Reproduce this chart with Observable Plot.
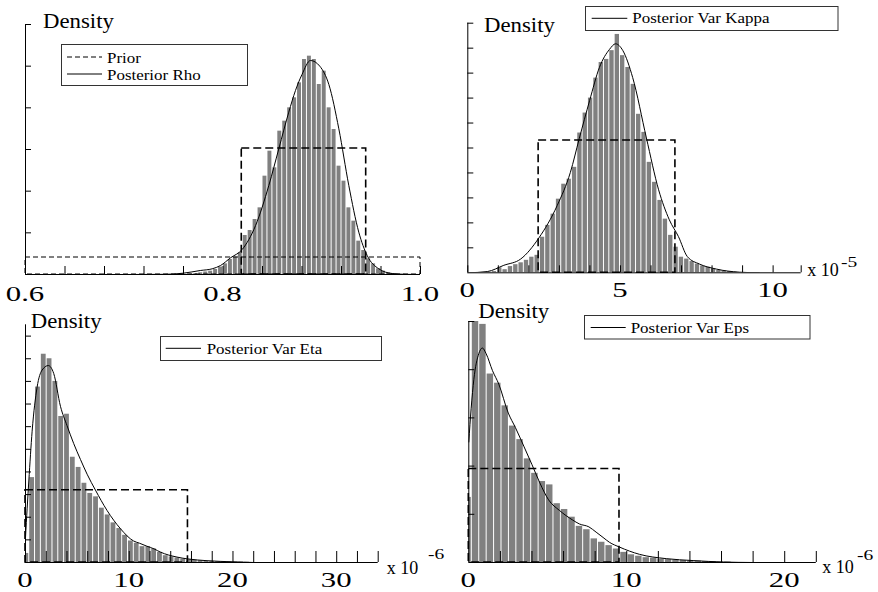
<!DOCTYPE html>
<html><head><meta charset="utf-8">
<script src="https://cdn.jsdelivr.net/npm/d3@7"></script>
<script src="https://cdn.jsdelivr.net/npm/@observablehq/plot@0.6"></script>
<style>
html,body{margin:0;padding:0;background:#fff;}
#wrap{position:relative;width:878px;height:592px;overflow:hidden;background:#fff;font-family:'Liberation Serif',serif;}
#wrap svg{position:absolute;}
</style></head><body><div id="wrap"></div>
<script>
// ---------- Panel 1: Rho ----------
const rhoBinStart = 0.765, rhoBinWidth = 0.005;
const rhoHist = [0.03,0.06,0.10,0.15,0.20,0.30,0.45,0.64,0.90,1.05,1.30,2.34,2.64,3.30,4.00,5.90,7.40,6.40,8.60,9.20,10.0,10.6,11.5,12.9,13.1,12.9,11.4,12.2,10.0,8.7,6.5,5.6,4.0,3.2,2.0,1.44,0.94,0.64,0.34,0.20,0.10,0.05];
const rhoCurveX = [0.70,0.74,0.76,0.777,0.789,0.7975,0.8076,0.8194,0.833,0.8464,0.8565,0.8666,0.8734,0.880,0.8886,0.898,0.9072,0.9173,0.9274,0.9375,0.946,0.9578,0.9713,0.985,1.0];
const rhoCurveY = [0,0.01,0.08,0.24,0.34,0.54,1.0,1.5,2.94,5.34,7.54,9.74,11.04,12.0,12.84,12.5,11.4,8.74,5.34,2.54,1.14,0.34,0.06,0.01,0];
const rhoPriorWide = {x1: 0.6, x2: 1.0, h: 1.02};
const rhoPriorNarrow = {x1: 0.819, x2: 0.945, h: 7.56};
const rhoXTicks = [0.6,0.64,0.68,0.72,0.76,0.8,0.84,0.88,0.92,0.96,1.0];
const rhoXLabels = [0.6,0.8,1.0];
const rhoYTicks = [2.5,5,7.5,10,12.5,15];

// ---------- Panel 2: Var Kappa (x 1e-5) ----------
const kapBinStart = 0.61, kapBinWidth = 0.175;
const kapHist = [0.001,0.002,0.008,0.005,0.010,0.013,0.016,0.020,0.025,0.028,0.057,0.076,0.094,0.118,0.142,0.150,0.169,0.224,0.256,0.280,0.312,0.337,0.342,0.356,0.382,0.348,0.329,0.302,0.254,0.225,0.177,0.145,0.116,0.086,0.060,0.041,0.025,0.022,0.018,0.014,0.011,0.009,0.006,0.004,0.003,0.002,0.001];
const kapCurveX = [0,0.64,1.18,1.73,2.33,2.93,3.36,3.65,3.99,4.31,4.64,4.84,5.08,5.4,5.85,6.25,6.6,6.9,7.19,7.59,8.14,8.9,9.55];
const kapCurveY = [0,0.002,0.012,0.022,0.056,0.108,0.161,0.215,0.276,0.329,0.358,0.367,0.356,0.313,0.216,0.133,0.085,0.058,0.026,0.014,0.006,0.001,0];
const kapPrior = {x1: 2.32, x2: 6.80, h: 0.212};
const kapXTicks = [0,1,2,3,4,5,6,7,8,9,10,10.92];
const kapXLabels = [0,5,10];
const kapYTicks = [0.04,0.08,0.12,0.16,0.2,0.24,0.28,0.32,0.36,0.4];

// ---------- Panel 3: Var Eta (x 1e-6) ----------
const etaBinStart = -0.2, etaBinWidth = 0.56;
const etaHist = [0.008,0.075,0.155,0.184,0.180,0.160,0.129,0.131,0.093,0.084,0.070,0.061,0.058,0.048,0.042,0.035,0.030,0.024,0.019,0.017,0.014,0.014,0.012,0.009,0.006,0.005,0.004,0.003,0.0024,0.002,0.0016,0.0012,0.001,0.0008,0.0006,0.0006,0.0004,0.0004,0.0002];
const etaCurveX = [0,0.16,0.32,0.64,1.12,1.6,2.2,2.72,3.37,4.0,4.65,5.3,5.94,6.74,7.86,9.14,10.42,11.0,11.7,12.4,13.0,14.6,15.6,17.5,20.0,22.0];
const etaCurveY = [0.022,0.048,0.072,0.116,0.155,0.170,0.174,0.167,0.138,0.121,0.105,0.091,0.078,0.064,0.046,0.030,0.019,0.017,0.0144,0.012,0.0092,0.0048,0.0032,0.0016,0.0006,0];
const etaPrior = {x1: 0, x2: 15.66, h: 0.0638};
const etaXTicks = [2,4,6,8,10,12,14,16,18,20,22,24,26,28,30,32,34];
const etaXLabels = [0,10,20,30];
const etaYTicks = [0.02,0.04,0.06,0.08,0.1,0.12,0.14,0.16,0.18,0.2];

// ---------- Panel 4: Var Eps (x 1e-6) ----------
const epsBinStart = -0.28, epsBinWidth = 0.47;
const epsHist = [0.0675,0.25,0.247,0.1955,0.186,0.1625,0.1415,0.1275,0.1075,0.0925,0.084,0.0805,0.061,0.055,0.047,0.0375,0.034,0.0245,0.021,0.0175,0.014,0.0105,0.008,0.0065,0.005,0.0045,0.0035,0.003,0.0025,0.002,0.0015,0.0015,0.001,0.001,0.0005,0.0005];
const epsCurveX = [0,0.15,0.32,0.63,0.86,1.1,1.5,1.9,2.5,2.95,3.5,4.0,4.5,5.05,5.74,6.58,7.0,7.6,8.06,8.5,8.9,9.54,10.8,12.5,14.2,16.1,18.0];
const epsCurveY = [0.125,0.16,0.19,0.2165,0.2225,0.2165,0.199,0.185,0.155,0.14,0.12,0.1015,0.0825,0.065,0.054,0.044,0.040,0.037,0.0315,0.026,0.021,0.016,0.0085,0.004,0.002,0.0005,0];
const epsPrior = {x1: 0, x2: 9.54, h: 0.097};
const epsXTicks = [2,4,6,8,10,12,14,16,18,20,22];
const epsXLabels = [0,10,20];
const epsYTicks = [0.05,0.1,0.15,0.2,0.25];

// ---------- helpers ----------
const bins = (start, w, vals) => vals.map((d, i) => ({x1: start + i * w, x2: start + (i + 1) * w, d}));
const pts = (xs, ys) => xs.map((x, i) => ({x, y: ys[i]}));
const wrap = document.getElementById("wrap");

function panel(c) {
  const innerH = c.height - c.mT - c.mB, innerW = c.width - c.mL - c.mR;
  const marks = [
    Plot.rect(c.bins, {x1: "x1", x2: "x2", y1: 0, y2: "d", fill: "#808080", insetLeft: 0.5, insetRight: 0.5, clip: true}),
    ...c.priors.map(p => Plot.rect([p.r], {x1: "x1", x2: "x2", y1: 0, y2: "h", fill: "none", stroke: "#000", strokeWidth: p.w, strokeDasharray: p.dash})),
    Plot.line(c.curve, {x: "x", y: "y", curve: "monotone-x", stroke: "#000", strokeWidth: 1, clip: true}),
    Plot.tickX(c.xTicks, {x: d => d, insetTop: innerH - c.xTickLen, stroke: "#000"}),
    Plot.tickY(c.yTicks, {y: d => d, insetRight: innerW - 6, stroke: "#000"}),
    Plot.ruleY([c.yDomain[0]], {stroke: "#000"}),
    Plot.ruleX([c.xDomain[0]], {stroke: "#000"})
  ];
  const svg = Plot.plot({
    width: c.width, height: c.height,
    marginLeft: c.mL, marginRight: c.mR, marginTop: c.mT, marginBottom: c.mB,
    x: {domain: c.xDomain, axis: null},
    y: {domain: c.yDomain, axis: null},
    style: {background: "transparent", overflow: "visible"},
    marks
  });
  svg.style.left = c.left + "px";
  svg.style.top = c.top + "px";
  wrap.appendChild(svg);
  return svg;
}

const P1 = panel({left: 0, top: 0, width: 439, height: 296, mL: 25, mR: 19, mT: 24, mB: 22,
  xDomain: [0.6, 1.0], yDomain: [0, 15], bins: bins(rhoBinStart, rhoBinWidth, rhoHist),
  curve: pts(rhoCurveX, rhoCurveY),
  priors: [{r: rhoPriorWide, w: 1, dash: "5,3"}, {r: rhoPriorNarrow, w: 1.6, dash: "8,4"}],
  xTicks: rhoXTicks, yTicks: rhoYTicks, xTickLen: 8});

const P2 = panel({left: 439, top: 0, width: 439, height: 296, mL: 28.3, mR: 77.3, mT: 22.7, mB: 23.7,
  xDomain: [0, 10.92], yDomain: [0, 0.4], bins: bins(kapBinStart, kapBinWidth, kapHist),
  curve: pts(kapCurveX, kapCurveY),
  priors: [{r: kapPrior, w: 1.6, dash: "8,4"}],
  xTicks: kapXTicks, yTicks: kapYTicks, xTickLen: 7});

const P3 = panel({left: 0, top: 296, width: 439, height: 296, mL: 25, mR: 61.3, mT: 28.3, mB: 30,
  xDomain: [0, 34], yDomain: [0, 0.21], bins: bins(etaBinStart, etaBinWidth, etaHist),
  curve: pts(etaCurveX, etaCurveY),
  priors: [{r: etaPrior, w: 1.6, dash: "8,4"}],
  xTicks: etaXTicks, yTicks: etaYTicks, xTickLen: 11});

const P4 = panel({left: 439, top: 296, width: 439, height: 296, mL: 29.3, mR: 62.2, mT: 25, mB: 30,
  xDomain: [0, 22], yDomain: [0, 0.25], bins: bins(epsBinStart, epsBinWidth, epsHist),
  curve: pts(epsCurveX, epsCurveY),
  priors: [{r: epsPrior, w: 1.6, dash: "8,4"}],
  xTicks: epsXTicks, yTicks: epsYTicks, xTickLen: 11});

// ---------- overlay text ----------
const SERIF = "'Liberation Serif', 'Times New Roman', 'DejaVu Serif', serif";
const ov = d3.select(wrap).append("svg").attr("width", 878).attr("height", 592).style("left", "0px").style("top", "0px");
function label(x, y, t, size, sx = 1, anchor = "start") {
  ov.append("text").attr("transform", `translate(${x},${y}) scale(${sx},1)`)
    .attr("text-anchor", anchor)
    .style("font-family", SERIF).style("font-size", size + "px")
    .attr("fill", "#000").text(t);
}
function tickLabels(plot, left, values, fmt, baseline) {
  const sx = plot.scale("x");
  values.forEach(v => label(left + sx.apply(v), baseline, fmt(v), 22, 1.4, "middle"));
}
tickLabels(P1, 0, rhoXLabels, d3.format(".1f"), 301);
tickLabels(P2, 439, kapXLabels, d3.format("d"), 297);
tickLabels(P3, 0, etaXLabels, d3.format("d"), 587);
tickLabels(P4, 439, epsXLabels, d3.format("d"), 587);

// Density labels
label(43, 28, "Density", 20, 1.14);
label(484, 31.7, "Density", 20, 1.14);
label(30.7, 328, "Density", 20, 1.14);
label(478.3, 317.7, "Density", 20, 1.14);

// exponent labels
label(807.3, 276, "x 10", 18, 1.0); label(841, 266.7, "-5", 15, 1.3);
label(386.7, 574, "x 10", 18, 1.0); label(428, 559, "-6", 15, 1.3);
label(822.3, 572.7, "x 10", 18, 1.0); label(857, 560, "-6", 15, 1.3);

// legends
function box(x, y, w, h) {
  ov.append("rect").attr("x", x).attr("y", y).attr("width", w).attr("height", h)
    .attr("fill", "#fff").attr("stroke", "#333").attr("stroke-width", 1);
}
function entry(x1, x2, y, tx, ty, t, dash) {
  ov.append("line").attr("x1", x1).attr("x2", x2).attr("y1", y).attr("y2", y)
    .attr("stroke", "#000").attr("stroke-width", 1).attr("stroke-dasharray", dash || null);
  label(tx, ty, t, 15, 1.13);
}
box(61.5, 44.5, 186, 41);
entry(67, 102, 57, 107, 62.5, "Prior", "5,3");
entry(67, 102, 74, 107, 79.5, "Posterior Rho");
box(585.5, 6.5, 252.5, 24);
entry(591.7, 627.3, 18.3, 632.3, 23.3, "Posterior Var Kappa");
box(160.5, 336.5, 221, 24);
entry(165.7, 201, 348.3, 206.7, 354, "Posterior Var Eta");
box(584.5, 315.5, 225.5, 23.5);
entry(590.7, 625.7, 327.5, 630.7, 333, "Posterior Var Eps");
</script></body></html>
